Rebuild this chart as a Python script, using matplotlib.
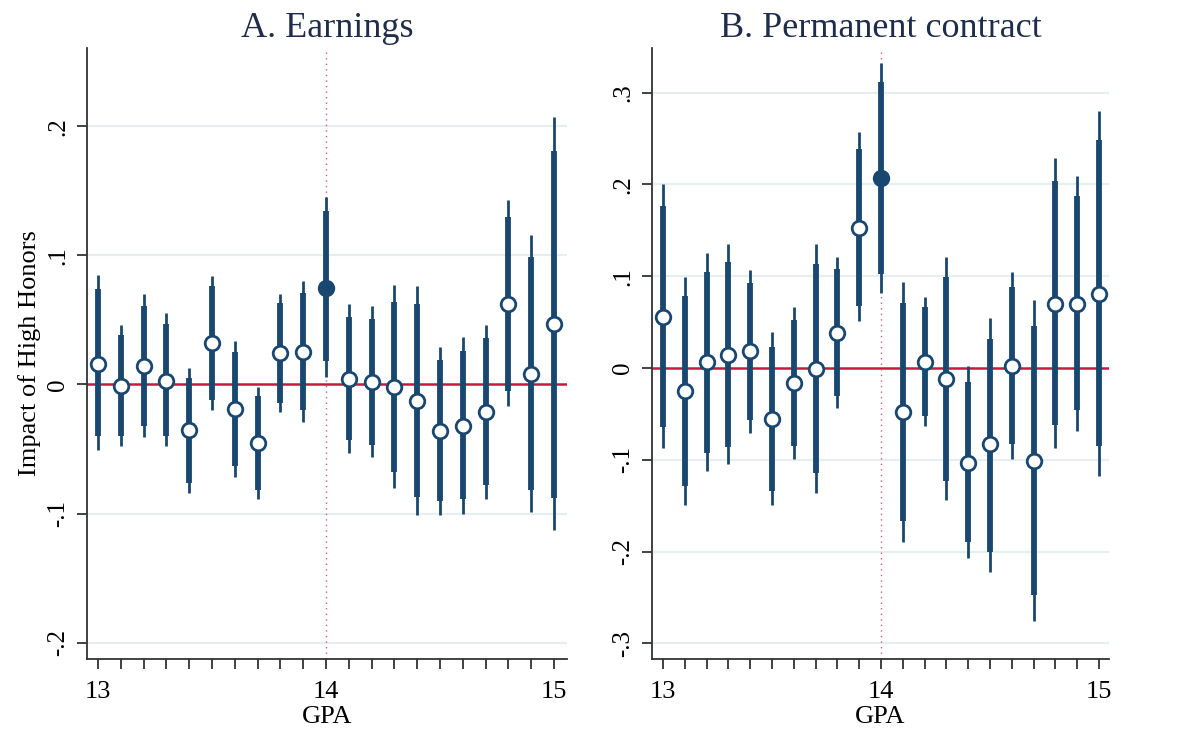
import matplotlib
matplotlib.use("Agg")
import matplotlib.pyplot as plt
import numpy as np

gpa = [13.0, 13.1, 13.2, 13.3, 13.4, 13.5, 13.6, 13.7, 13.8, 13.9, 14.0,
       14.1, 14.2, 14.3, 14.4, 14.5, 14.6, 14.7, 14.8, 14.9, 15.0]

# Panel A: Earnings
earn_est = [0.016, -0.001, 0.014, 0.003, -0.035, 0.032, -0.019, -0.045, 0.024, 0.025, 0.075,
            0.004, 0.002, -0.002, -0.013, -0.036, -0.032, -0.021, 0.062, 0.008, 0.047]
earn_hi90 = [0.074, 0.038, 0.061, 0.047, 0.005, 0.076, 0.025, -0.009, 0.063, 0.071, 0.134,
             0.052, 0.051, 0.064, 0.062, 0.019, 0.026, 0.036, 0.130, 0.099, 0.181]
earn_lo90 = [-0.040, -0.040, -0.032, -0.040, -0.076, -0.012, -0.063, -0.082, -0.014, -0.020, 0.018,
             -0.043, -0.047, -0.068, -0.087, -0.090, -0.089, -0.078, -0.005, -0.082, -0.088]
earn_hi95 = [0.085, 0.046, 0.070, 0.055, 0.013, 0.084, 0.034, -0.002, 0.070, 0.080, 0.145,
             0.062, 0.061, 0.077, 0.076, 0.029, 0.037, 0.046, 0.143, 0.116, 0.207]
earn_lo95 = [-0.051, -0.048, -0.041, -0.048, -0.084, -0.020, -0.072, -0.089, -0.021, -0.029, 0.006,
             -0.053, -0.056, -0.080, -0.101, -0.101, -0.100, -0.089, -0.017, -0.099, -0.113]

# Panel B: Permanent contract
perm_est = [0.056, -0.025, 0.007, 0.014, 0.018, -0.055, -0.016, -0.001, 0.038, 0.153, 0.207,
            -0.048, 0.007, -0.012, -0.103, -0.083, 0.002, -0.101, 0.070, 0.070, 0.081]
perm_hi90 = [0.176, 0.079, 0.105, 0.115, 0.093, 0.023, 0.052, 0.113, 0.108, 0.239, 0.312,
             0.071, 0.066, 0.099, -0.015, 0.032, 0.088, 0.046, 0.204, 0.187, 0.248]
perm_lo90 = [-0.064, -0.129, -0.093, -0.086, -0.057, -0.134, -0.085, -0.114, -0.030, 0.068, 0.102,
             -0.167, -0.052, -0.123, -0.190, -0.200, -0.083, -0.247, -0.062, -0.046, -0.085]
perm_hi95 = [0.200, 0.099, 0.125, 0.135, 0.107, 0.039, 0.066, 0.135, 0.121, 0.257, 0.332,
             0.094, 0.077, 0.121, 0.002, 0.055, 0.105, 0.074, 0.229, 0.209, 0.280]
perm_lo95 = [-0.087, -0.149, -0.112, -0.105, -0.071, -0.149, -0.099, -0.136, -0.044, 0.051, 0.082,
             -0.190, -0.063, -0.144, -0.207, -0.222, -0.099, -0.276, -0.087, -0.069, -0.118]

earn_ticks = [-0.2, -0.1, 0.0, 0.1, 0.2]
earn_labels = ["-.2", "-.1", "0", ".1", ".2"]
perm_ticks = [-0.3, -0.2, -0.1, 0.0, 0.1, 0.2, 0.3]
perm_labels = ["-.3", "-.2", "-.1", "0", ".1", ".2", ".3"]
x_major = [13, 14, 15]
x_labels = ["13", "14", "15"]
cutoff = 14.0

NAVY = "#1a476f"
RED = "#c8183f"
GRID = "#e6eef0"
FONT = "Liberation Serif"

plt.rcParams['font.family'] = [FONT, 'DejaVu Serif']

fig = plt.figure(figsize=(11.78, 7.32), dpi=100)
axA = fig.add_axes([0.0739, 0.0997, 0.4075, 0.8347])
axB = fig.add_axes([0.5535, 0.0997, 0.388, 0.8347])


def draw(ax, est, lo90, hi90, lo95, hi95, ticks, labels, ylim, xlim, title):
    ax.set_xlim(*xlim)
    ax.set_ylim(*ylim)
    for t in ticks:
        if t != 0:
            ax.axhline(t, color=GRID, lw=1.6, zorder=0)
    ax.axhline(0, color=RED, lw=1.8, zorder=1)
    ax.axvline(cutoff, color="#d0607a", lw=1.0, ls=(0, (1, 3)), zorder=1)
    x = np.array(gpa)
    ax.vlines(x, lo95, hi95, color=NAVY, lw=2.0, zorder=2)
    ax.vlines(x, lo90, hi90, color=NAVY, lw=4.2, zorder=3)
    est = np.array(est)
    mask = np.isclose(x, cutoff)
    ax.plot(x[~mask], est[~mask], 'o', ms=10.5, mfc='white', mec=NAVY, mew=2.0,
            ls='none', zorder=4)
    ax.plot(x[mask], est[mask], 'o', ms=10.5, mfc=NAVY, mec=NAVY, mew=2.0,
            ls='none', zorder=4)
    ax.set_yticks(ticks)
    ax.set_yticklabels(labels, rotation=90, va='center', fontsize=18)
    ax.set_xticks(x_major)
    ax.set_xticklabels(x_labels, fontsize=19)
    ax.set_xticks(gpa, minor=True)
    ax.tick_params(axis='x', which='both', length=7, width=1.3, direction='out',
                   colors='#333333', labelcolor='black', pad=9)
    ax.tick_params(axis='y', which='both', length=7, width=1.3, direction='out',
                   colors='#333333', labelcolor='black', pad=6)
    for s in ['top', 'right']:
        ax.spines[s].set_visible(False)
    for s in ['left', 'bottom']:
        ax.spines[s].set_color('#333333')
        ax.spines[s].set_linewidth(1.3)
    ax.set_xlabel("GPA", fontsize=19, labelpad=2)
    ax.set_title(title, fontsize=26, color="#1f2d4a", pad=8)


draw(axA, earn_est, earn_lo90, earn_hi90, earn_lo95, earn_hi95,
     earn_ticks, earn_labels, (-0.2127, 0.2606), (12.952, 15.057), "A. Earnings")
draw(axB, perm_est, perm_lo90, perm_hi90, perm_lo95, perm_hi95,
     perm_ticks, perm_labels, (-0.317, 0.3486), (12.95, 15.046), "B. Permanent contract")
axA.set_ylabel("Impact of High Honors", fontsize=19, labelpad=4)

fig.savefig("out.png", dpi=100, facecolor='white')
